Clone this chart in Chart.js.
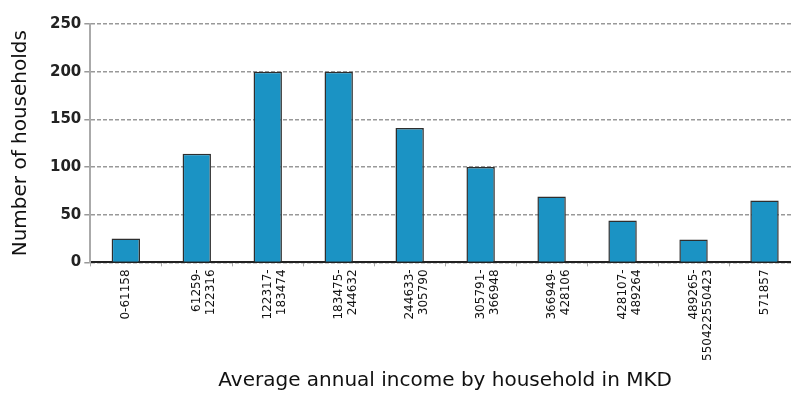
<!DOCTYPE html>
<html><head><meta charset="utf-8">
<script src="https://cdn.jsdelivr.net/npm/chart.js@4/dist/chart.umd.min.js"></script>
<style>
html,body{margin:0;padding:0;background:#fff;overflow:hidden;}
#wrap{width:800px;height:393px;position:relative;}
</style></head>
<body><div id="wrap"><canvas id="c" width="800" height="393"></canvas></div>
<script>
const categories = [
  "0-61158",
  ["61259-","122316"],
  ["122317-","183474"],
  ["183475-","244632"],
  ["244633-","305790"],
  ["305791-","366948"],
  ["366949-","428106"],
  ["428107-","489264"],
  ["489265-","550422550423"],
  "571857"
];
const households = [25, 114, 200, 200, 141, 100, 69, 44, 24, 65];
const yTicks = [0, 50, 100, 150, 200, 250];
const yTitle = "Number of households";
const xTitle = "Average annual income by household in MKD";

new Chart(document.getElementById('c'), {
  type: 'bar',
  data: {
    labels: categories,
    datasets: [{
      data: households,
      backgroundColor: '#1b93c4',
      borderColor: '#2e2e2e',
      borderWidth: 1.5,
      barPercentage: 0.4,
      categoryPercentage: 1
    }]
  },
  options: {
    responsive: false,
    animation: false,
    layout: { padding: { top: 24, right: 0, left: 9, bottom: 0 } },
    plugins: { legend: { display: false }, tooltip: { enabled: false } },
    scales: {
      x: {
        grid: { display: true, drawOnChartArea: false, drawTicks: true, tickLength: 4, color: '#aaa', offset: true },
        border: { display: true, color: '#222', width: 2 },
        ticks: { maxRotation: 90, minRotation: 90, autoSkip: false, color: '#111',
          font: { family: 'DejaVu Sans', size: 12 }, padding: 3 },
        title: { display: true, text: xTitle, color: '#111',
          font: { family: 'DejaVu Sans', size: 20 }, padding: { top: 5, bottom: 0 } }
      },
      y: {
        min: 0, max: 250,
        afterBuildTicks: (ax) => { ax.ticks = yTicks.map(v => ({ value: v })); },
        grid: { color: '#999', lineWidth: 1.5, tickLength: 6, drawTicks: true },
        border: { display: true, color: '#aaa', dash: [4, 2], width: 2 },
        ticks: { color: '#222', font: { family: 'DejaVu Sans', size: 15, weight: 'bold' }, padding: 3 },
        title: { display: true, text: yTitle, color: '#111',
          font: { family: 'DejaVu Sans', size: 20 }, padding: { top: 0, bottom: 14 } }
      }
    }
  }
});
</script>
</body></html>
